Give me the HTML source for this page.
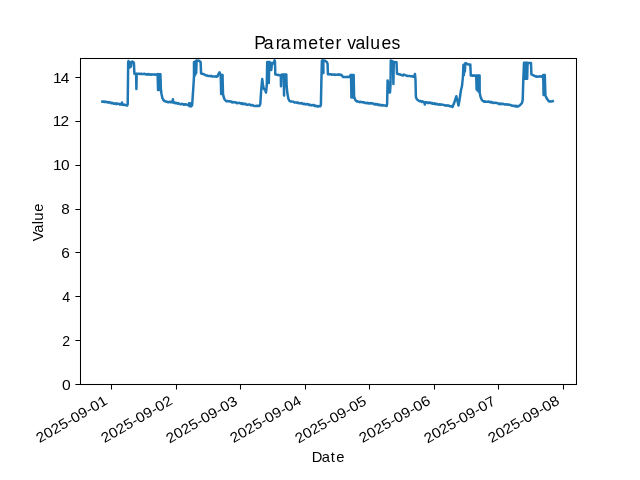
<!DOCTYPE html>
<html lang="en">
<head>
<meta charset="utf-8">
<title>Parameter values</title>
<style>
html,body{margin:0;padding:0;background:#fff;}
body{width:640px;height:480px;overflow:hidden;font-family:"Liberation Sans",sans-serif;}
svg{display:block;}
</style>
</head>
<body>
<svg width="640" height="480" viewBox="0 0 640 480" style="will-change:transform">
<rect width="640" height="480" fill="#ffffff"/>
<clipPath id="ax"><rect x="80.0" y="57.6" width="496.0" height="326.4"/></clipPath>
<path clip-path="url(#ax)" d="M102.40 101.60 L103.02 101.53 L103.64 101.47 L104.26 102.02 L104.88 101.59 L105.50 102.10 L106.12 102.04 L106.74 101.86 L107.35 102.36 L107.97 102.03 L108.59 102.48 L109.21 102.24 L109.83 102.35 L110.45 102.75 L111.07 103.20 L111.69 102.66 L112.31 102.85 L112.93 103.31 L113.55 103.69 L114.17 103.45 L114.79 103.38 L115.41 103.99 L116.03 103.25 L116.65 104.07 L117.26 103.66 L117.88 103.62 L118.50 103.69 L119.12 103.95 L119.74 104.50 L120.36 104.03 L120.98 104.48 L121.60 104.63 L122.00 102.60 L122.40 104.70 L123.09 104.71 L123.77 105.00 L124.46 104.69 L125.14 104.82 L125.83 105.08 L126.51 105.63 L127.20 105.53 L127.70 104.00 L128.20 62.00 L128.50 61.00 L129.00 66.50 L129.40 62.00 L129.90 67.50 L130.40 62.50 L130.90 66.50 L131.40 62.00 L132.30 61.60 L133.20 62.00 L133.90 63.00 L134.40 73.80 L136.10 73.80 L136.40 88.90 L136.70 73.80 L137.34 73.71 L137.98 73.86 L138.62 73.80 L139.25 73.73 L139.89 73.99 L140.53 73.95 L141.17 73.73 L141.81 73.90 L142.45 73.88 L143.08 74.06 L143.72 74.00 L144.36 73.79 L145.00 74.14 L145.62 74.06 L146.24 74.33 L146.86 74.63 L147.48 74.09 L148.10 74.39 L148.72 73.99 L149.34 74.55 L149.96 74.64 L150.58 74.47 L151.20 74.74 L151.82 74.23 L152.44 74.58 L153.06 74.48 L153.68 74.47 L154.30 74.36 L154.92 74.71 L155.54 74.80 L156.16 74.38 L156.78 74.55 L157.40 74.00 L157.60 74.20 L158.07 90.00 L158.54 74.20 L159.01 90.00 L159.49 74.20 L159.96 90.00 L160.43 74.20 L160.90 90.00 L161.00 90.00 L161.50 94.00 L162.40 98.00 L163.40 100.00 L164.40 101.00 L166.00 101.50 L166.65 101.78 L167.30 101.83 L167.95 102.24 L168.60 102.19 L169.25 101.81 L169.90 102.00 L170.55 102.35 L171.20 101.87 L171.85 102.37 L172.50 102.20 L172.90 99.30 L173.30 102.70 L173.90 102.45 L174.51 102.50 L175.11 103.23 L175.72 102.75 L176.32 102.95 L176.92 103.18 L177.53 103.71 L178.13 103.09 L178.73 103.52 L179.34 103.71 L179.94 104.10 L180.55 104.14 L181.15 104.28 L181.75 103.85 L182.36 104.07 L182.96 104.11 L183.57 104.68 L184.17 104.84 L184.77 104.21 L185.38 104.33 L185.98 104.48 L186.58 104.58 L187.19 104.90 L187.79 105.09 L188.40 104.89 L189.00 104.75 L189.00 103.20 L189.47 106.23 L189.93 103.33 L190.40 106.30 L190.87 103.47 L191.33 106.37 L191.80 103.60 L192.10 105.50 L192.80 95.00 L193.50 85.00 L194.00 76.00 L194.00 62.00 L194.43 76.17 L194.87 61.67 L195.30 74.50 L195.73 61.33 L196.17 72.83 L196.60 61.00 L195.70 61.00 L196.70 60.60 L199.00 60.80 L200.60 62.00 L201.10 73.50 L204.00 74.20 L206.00 75.50 L206.61 75.52 L207.21 75.56 L207.82 75.75 L208.42 76.05 L209.03 75.96 L209.63 75.92 L210.24 76.05 L210.84 76.15 L211.45 75.85 L212.05 76.42 L212.66 76.42 L213.26 76.55 L213.87 76.57 L214.47 76.39 L215.08 76.47 L215.68 76.36 L216.29 76.74 L216.89 76.47 L217.50 76.54 L218.50 74.00 L219.50 72.30 L220.30 74.50 L220.70 75.00 L221.16 94.00 L221.62 75.00 L222.08 94.00 L222.54 75.00 L223.00 94.00 L223.40 96.00 L224.60 99.50 L226.20 101.20 L226.80 101.03 L227.41 101.08 L228.01 101.33 L228.61 101.17 L229.22 101.21 L229.82 101.44 L230.43 101.49 L231.03 101.82 L231.63 101.61 L232.24 102.46 L232.84 102.32 L233.44 102.00 L234.05 102.18 L234.65 102.36 L235.25 102.47 L235.86 102.34 L236.46 103.09 L237.07 103.31 L237.67 102.93 L238.27 103.04 L238.88 102.77 L239.48 102.88 L240.08 103.19 L240.69 103.21 L241.29 103.81 L241.89 103.31 L242.50 103.27 L243.10 104.20 L243.71 103.91 L244.31 103.66 L244.91 104.11 L245.52 103.74 L246.12 104.29 L246.72 104.78 L247.33 104.77 L247.93 104.71 L248.53 104.42 L249.14 104.60 L249.74 104.52 L250.35 105.15 L250.95 105.03 L251.55 105.35 L252.16 105.03 L252.76 105.03 L253.36 105.65 L253.97 105.90 L254.57 105.88 L255.17 105.93 L255.78 106.03 L256.38 106.05 L256.99 105.68 L257.59 106.04 L258.19 105.98 L258.80 105.78 L259.40 105.88 L260.30 104.00 L261.20 90.00 L262.20 79.00 L263.00 85.00 L263.80 89.00 L265.00 89.50 L266.00 92.50 L266.80 85.00 L267.20 62.00 L267.30 62.00 L267.80 83.00 L268.30 62.00 L268.80 83.00 L269.30 62.00 L269.50 62.00 L270.50 63.00 L271.30 70.00 L272.00 63.00 L273.00 63.50 L274.00 62.00 L274.60 60.40 L275.00 62.00 L275.30 74.50 L275.91 74.45 L276.52 74.51 L277.13 74.85 L277.74 75.09 L278.36 74.86 L278.97 75.23 L279.58 75.34 L280.19 75.40 L280.80 75.12 L281.00 86.30 L281.40 75.00 L282.00 74.60 L283.80 74.60 L284.00 95.60 L284.50 74.40 L286.30 74.40 L286.60 85.00 L287.30 93.00 L288.30 98.50 L289.50 101.00 L291.00 101.60 L291.61 101.45 L292.22 101.56 L292.82 101.63 L293.43 101.74 L294.04 102.22 L294.65 102.57 L295.26 102.62 L295.87 102.40 L296.48 102.66 L297.08 102.89 L297.69 102.35 L298.30 102.97 L298.91 103.30 L299.52 103.28 L300.12 103.36 L300.73 103.21 L301.34 103.05 L301.95 103.70 L302.56 103.39 L303.17 103.91 L303.77 104.17 L304.38 103.75 L304.99 103.86 L305.60 104.45 L306.21 104.35 L306.82 103.96 L307.43 104.02 L308.03 104.14 L308.64 104.92 L309.25 104.94 L309.86 104.45 L310.47 105.16 L311.07 105.40 L311.68 105.21 L312.29 105.04 L312.90 105.32 L313.51 105.04 L314.12 105.04 L314.72 106.01 L315.33 105.82 L315.94 105.81 L316.55 106.28 L317.16 105.93 L317.77 106.43 L318.38 106.49 L318.98 106.04 L319.59 106.17 L320.20 106.31 L320.90 105.00 L321.40 80.00 L321.90 60.80 L322.00 60.50 L322.47 73.00 L322.93 60.50 L323.40 73.00 L323.30 60.40 L325.00 60.80 L327.00 62.30 L327.60 64.00 L327.90 74.30 L328.52 74.15 L329.14 74.42 L329.75 74.21 L330.37 74.35 L330.99 74.18 L331.61 74.75 L332.23 74.39 L332.85 74.49 L333.46 74.60 L334.08 74.86 L334.70 74.54 L335.32 74.92 L335.94 74.66 L336.55 74.70 L337.17 74.73 L337.79 74.40 L338.41 74.72 L339.03 74.57 L339.65 74.47 L340.26 75.05 L340.88 74.64 L341.50 74.88 L343.00 77.00 L343.65 77.11 L344.30 77.03 L344.95 76.91 L345.60 77.01 L346.25 77.03 L346.90 77.14 L347.55 76.80 L348.20 77.03 L348.85 76.87 L349.50 76.89 L350.50 75.00 L351.00 75.00 L351.44 97.50 L351.89 75.00 L352.33 97.50 L352.77 75.00 L353.21 97.50 L353.66 75.00 L354.10 97.50 L354.40 97.50 L355.30 100.00 L356.70 101.30 L357.31 101.64 L357.92 101.49 L358.53 101.64 L359.14 101.91 L359.75 102.14 L360.36 101.81 L360.97 102.06 L361.58 102.06 L362.19 102.16 L362.80 102.41 L363.41 102.29 L364.02 102.46 L364.63 102.50 L365.24 103.01 L365.85 102.89 L366.46 103.14 L367.07 103.29 L367.68 102.77 L368.29 103.14 L368.90 103.58 L369.51 103.58 L370.12 103.04 L370.73 103.12 L371.34 103.50 L371.96 103.26 L372.57 103.51 L373.18 103.45 L373.79 104.08 L374.40 104.28 L375.01 104.47 L375.62 103.90 L376.23 104.50 L376.84 104.54 L377.45 104.17 L378.06 104.93 L378.67 105.10 L379.28 104.52 L379.89 105.27 L380.50 104.87 L381.11 105.04 L381.72 105.59 L382.33 105.54 L382.94 105.03 L383.55 105.37 L384.16 105.54 L384.77 105.47 L385.38 105.44 L385.99 105.64 L386.60 106.10 L387.10 104.00 L387.60 80.50 L387.70 80.50 L388.16 92.50 L388.62 81.90 L389.08 92.50 L389.54 83.30 L390.00 92.50 L390.50 85.00 L390.80 60.60 L391.50 60.80 L393.00 61.80 L393.40 84.00 L393.80 62.00 L396.50 62.30 L397.00 73.80 L400.00 74.50 L403.00 75.50 L404.00 74.50 L407.00 76.00 L407.64 75.76 L408.27 76.12 L408.91 76.10 L409.55 75.89 L410.18 76.13 L410.82 76.35 L411.45 76.33 L412.09 76.10 L412.73 76.70 L413.36 76.63 L414.00 76.78 L415.00 74.00 L415.50 80.00 L415.90 97.00 L417.00 99.50 L419.50 101.30 L420.10 101.03 L420.70 101.26 L421.30 101.15 L421.90 101.90 L422.50 101.53 L423.10 101.49 L423.70 101.84 L424.30 102.37 L424.80 104.60 L425.30 102.20 L425.90 102.58 L426.51 102.18 L427.11 102.18 L427.72 102.97 L428.32 102.75 L428.93 102.97 L429.53 102.51 L430.14 102.58 L430.74 103.25 L431.34 103.11 L431.95 102.89 L432.55 103.77 L433.16 103.59 L433.76 103.84 L434.37 103.29 L434.97 104.09 L435.58 103.47 L436.18 104.29 L436.78 104.02 L437.39 104.01 L437.99 104.30 L438.60 104.74 L439.20 104.24 L439.81 104.21 L440.41 104.67 L441.02 104.51 L441.62 104.49 L442.22 104.63 L442.83 104.63 L443.43 104.86 L444.04 105.06 L444.64 105.15 L445.25 105.66 L445.85 105.34 L446.46 105.62 L447.06 105.43 L447.66 105.68 L448.27 105.48 L448.87 105.79 L449.48 105.67 L450.08 106.42 L450.69 106.35 L451.29 106.12 L451.90 106.48 L452.50 106.99 L454.50 102.00 L456.30 96.30 L457.50 101.00 L458.50 105.60 L459.50 100.00 L461.00 90.00 L462.00 86.00 L463.00 76.00 L463.40 65.00 L463.88 75.25 L464.35 64.25 L464.82 71.75 L465.30 63.50 L465.60 63.00 L466.00 63.20 L468.00 64.40 L470.30 64.50 L470.80 75.50 L471.45 75.32 L472.10 75.68 L472.75 75.50 L473.40 75.55 L474.05 75.73 L474.70 75.52 L475.35 75.59 L476.00 75.69 L476.20 75.60 L476.62 89.44 L477.05 75.60 L477.48 90.31 L477.90 75.60 L478.32 91.19 L478.75 75.60 L479.18 92.06 L479.60 75.60 L479.70 93.00 L480.60 97.00 L482.00 100.30 L483.50 101.20 L484.11 101.73 L484.71 101.24 L485.32 101.77 L485.92 101.75 L486.53 101.78 L487.13 101.66 L487.74 101.70 L488.34 101.53 L488.95 101.69 L489.55 101.73 L490.16 102.42 L490.76 102.07 L491.37 102.08 L491.97 102.10 L492.58 102.88 L493.18 102.99 L493.79 102.90 L494.39 102.65 L495.00 102.70 L495.61 102.84 L496.21 103.08 L496.82 102.90 L497.42 103.25 L498.03 103.18 L498.63 103.90 L499.24 104.00 L499.84 103.71 L500.45 103.52 L501.05 104.26 L501.66 103.77 L502.26 103.90 L502.87 103.67 L503.47 104.10 L504.08 104.28 L504.68 104.40 L505.29 104.22 L505.89 104.58 L506.50 104.22 L507.11 104.55 L507.71 104.48 L508.32 104.85 L508.92 104.62 L509.53 104.69 L510.13 105.04 L510.74 105.06 L511.34 105.47 L511.95 105.51 L512.55 105.80 L513.16 105.81 L513.76 105.96 L514.37 106.19 L514.97 105.84 L515.58 105.88 L516.18 106.56 L516.79 105.90 L517.39 106.51 L518.00 106.53 L520.00 105.20 L522.00 103.00 L522.70 100.00 L523.30 80.00 L524.00 62.80 L524.10 62.80 L524.54 78.80 L524.98 62.80 L525.41 78.80 L525.85 62.80 L526.29 78.80 L526.73 62.80 L527.16 78.80 L527.60 62.80 L527.80 63.00 L531.00 63.00 L531.40 74.40 L532.00 74.60 L533.50 75.30 L535.60 76.50 L536.22 76.27 L536.84 76.67 L537.45 76.70 L538.07 76.56 L538.69 76.62 L539.31 76.66 L539.93 76.32 L540.55 76.51 L541.16 76.50 L541.78 76.67 L542.40 76.65 L543.20 75.00 L543.20 75.00 L543.60 95.00 L544.00 75.00 L544.40 95.00 L544.80 75.00 L545.40 95.50 L546.30 97.50 L547.20 99.00 L548.60 101.20 L549.30 101.41 L550.00 101.28 L550.70 101.49 L551.40 101.38 L552.10 101.40 L552.80 101.14" fill="none" stroke="#1f77b4" stroke-width="2.5" stroke-linejoin="round" stroke-linecap="square"/>
<rect x="80.5" y="58.5" width="496" height="326" fill="none" stroke="#000" stroke-width="1.05"/>
<path d="M80.5 384.50H75.4M80.5 340.50H75.4M80.5 296.50H75.4M80.5 252.50H75.4M80.5 209.50H75.4M80.5 165.50H75.4M80.5 121.50H75.4M80.5 77.50H75.4M111.50 384.5V389.6M176.50 384.5V389.6M240.50 384.5V389.6M305.50 384.5V389.6M369.50 384.5V389.6M434.50 384.5V389.6M498.50 384.5V389.6M563.50 384.5V389.6" stroke="#000" stroke-width="1.05" fill="none"/>
<text class="t" font-size="14.2" transform="translate(70.00 390.00) scale(1.1 1)" x="-7.19" y="0" textLength="7.19" lengthAdjust="spacing">0</text>
<text class="t" font-size="14.2" transform="translate(69.45 346.00) scale(0.99 1)" x="-7.19" y="0" textLength="7.19" lengthAdjust="spacing">2</text>
<text class="t" font-size="14.2" transform="translate(69.55 302.00)" x="-7.19" y="0" textLength="7.19" lengthAdjust="spacing">4</text>
<text class="t" font-size="14.2" transform="translate(69.00 258.00) scale(1.085 1)" x="-7.19" y="0" textLength="7.19" lengthAdjust="spacing">6</text>
<text class="t" font-size="14.2" transform="translate(69.00 214.00) scale(1.07 1)" x="-7.19" y="0" textLength="7.19" lengthAdjust="spacing">8</text>
<text class="t" font-size="14.2" transform="translate(69.65 170.00) scale(1.09 1)" x="-15.29" y="0" textLength="15.29" lengthAdjust="spacing">10</text>
<text class="t" font-size="14.2" transform="translate(69.05 126.00) scale(1.09 1)" x="-14.88" y="0" textLength="14.88" lengthAdjust="spacing">12</text>
<text class="t" font-size="14.2" transform="translate(69.25 83.00) scale(1.09 1)" x="-14.83" y="0" textLength="14.83" lengthAdjust="spacing">14</text>
<text class="t" font-size="14.2" transform="translate(108.50 403.50) rotate(-30) scale(1.09 1)" x="-73.03" y="0" textLength="73.03" lengthAdjust="spacing">2025-09-01</text>
<text class="t" font-size="14.2" transform="translate(173.50 403.50) rotate(-30) scale(1.09 1)" x="-73.03" y="0" textLength="73.03" lengthAdjust="spacing">2025-09-02</text>
<text class="t" font-size="14.2" transform="translate(238.50 403.90) rotate(-30) scale(1.09 1)" x="-73.03" y="0" textLength="73.03" lengthAdjust="spacing">2025-09-03</text>
<text class="t" font-size="14.2" transform="translate(302.50 403.50) rotate(-30) scale(1.09 1)" x="-73.03" y="0" textLength="73.03" lengthAdjust="spacing">2025-09-04</text>
<text class="t" font-size="14.2" transform="translate(367.50 403.90) rotate(-30) scale(1.09 1)" x="-73.03" y="0" textLength="73.03" lengthAdjust="spacing">2025-09-05</text>
<text class="t" font-size="14.2" transform="translate(431.50 403.50) rotate(-30) scale(1.09 1)" x="-73.03" y="0" textLength="73.03" lengthAdjust="spacing">2025-09-06</text>
<text class="t" font-size="14.2" transform="translate(496.50 403.90) rotate(-30) scale(1.09 1)" x="-73.03" y="0" textLength="73.03" lengthAdjust="spacing">2025-09-07</text>
<text class="t" font-size="14.2" transform="translate(560.50 403.50) rotate(-30) scale(1.09 1)" x="-73.03" y="0" textLength="73.03" lengthAdjust="spacing">2025-09-08</text>
<text class="t" font-size="14.2" transform="translate(328.40 461.80) scale(1.04 1)" x="-15.93 -6.52 2.16 7.56" y="0">Date</text>
<text class="t" font-size="14.2" transform="translate(43.40 220.80) rotate(-90) scale(1.04 1)" x="-19.75 -11.43 -3.37 0.03 8.72" y="0">Value</text>
<text class="t" font-size="18.2" transform="translate(328.00 48.90) scale(0.97 1)" x="-76.12 -66.11 -53.93 -48.66 -36.43 -20.37 -9.17 -3.48 7.66 14.40 19.79 28.47 38.78 43.64 55.23 65.42" y="0">Parameter values</text>
</svg>
</body>
</html>
